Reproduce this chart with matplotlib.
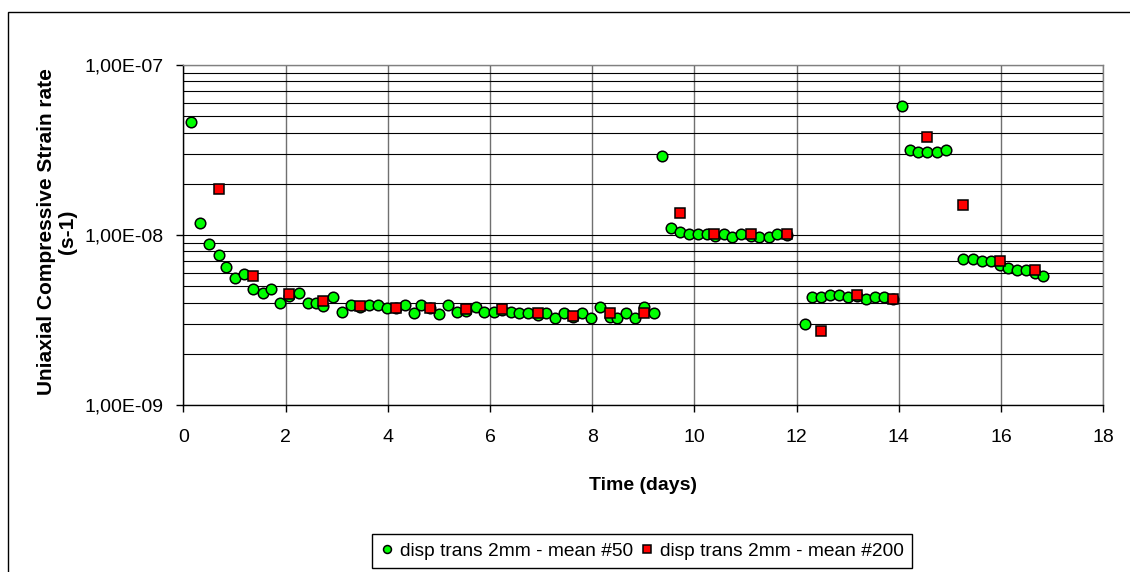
import matplotlib.pyplot as plt
from matplotlib.patches import Rectangle
from matplotlib.ticker import FixedLocator, LogLocator, NullFormatter

plt.rcParams['font.family'] = ['Liberation Sans', 'DejaVu Sans']

# strain rate from transverse displacement, running mean over 50 samples
t50 = [0.15, 0.33, 0.51, 0.69, 0.84, 1.01, 1.19, 1.37, 1.55, 1.72,
       1.90, 2.07, 2.26, 2.43, 2.60, 2.74, 2.92, 3.10, 3.28, 3.46,
       3.63, 3.81, 3.99, 4.16, 4.34, 4.51, 4.66, 4.83, 5.00, 5.18,
       5.36, 5.53, 5.72, 5.89, 6.07, 6.24, 6.42, 6.57, 6.75, 6.93,
       7.10, 7.28, 7.45, 7.62, 7.80, 7.98, 8.15, 8.34, 8.49, 8.66,
       8.83, 9.02, 9.20, 9.36, 9.54, 9.72, 9.90, 10.07, 10.24, 10.40,
       10.57, 10.74, 10.92, 11.10, 11.27, 11.45, 11.62, 11.81,
       12.16, 12.30, 12.47, 12.65, 12.83, 13.01, 13.19, 13.36, 13.54, 13.71, 13.89,
       14.07, 14.21, 14.38, 14.56, 14.74, 14.92,
       15.26, 15.45, 15.62, 15.80, 15.98, 16.13, 16.31, 16.49, 16.66, 16.83]
rate50 = [4.6e-8, 1.17e-8, 8.8e-9, 7.66e-9, 6.46e-9, 5.56e-9, 5.9e-9, 4.81e-9, 4.58e-9, 4.83e-9,
          3.96e-9, 4.4e-9, 4.58e-9, 3.96e-9, 3.96e-9, 3.84e-9, 4.33e-9, 3.54e-9, 3.86e-9, 3.75e-9,
          3.87e-9, 3.87e-9, 3.73e-9, 3.7e-9, 3.87e-9, 3.46e-9, 3.87e-9, 3.7e-9, 3.43e-9, 3.87e-9,
          3.54e-9, 3.55e-9, 3.75e-9, 3.54e-9, 3.54e-9, 3.6e-9, 3.54e-9, 3.46e-9, 3.46e-9, 3.4e-9,
          3.46e-9, 3.24e-9, 3.46e-9, 3.3e-9, 3.46e-9, 3.26e-9, 3.75e-9, 3.3e-9, 3.26e-9, 3.46e-9,
          3.26e-9, 3.77e-9, 3.46e-9, 2.92e-8, 1.10e-8, 1.04e-8, 1.01e-8, 1.01e-8, 1.01e-8, 9.8e-9,
          1.01e-8, 9.78e-9, 1.01e-8, 9.8e-9, 9.78e-9, 9.78e-9, 1.01e-8, 1.0e-8,
          2.98e-9, 4.33e-9, 4.33e-9, 4.46e-9, 4.46e-9, 4.33e-9, 4.35e-9, 4.19e-9, 4.33e-9, 4.33e-9, 4.2e-9,
          5.77e-8, 3.16e-8, 3.09e-8, 3.09e-8, 3.09e-8, 3.16e-8,
          7.23e-9, 7.23e-9, 7.03e-9, 7.03e-9, 6.7e-9, 6.4e-9, 6.22e-9, 6.22e-9, 6.0e-9, 5.74e-9]

# same signal, running mean over 200 samples
t200 = [0.69, 1.37, 2.07, 2.74, 3.46, 4.16, 4.83, 5.53, 6.24, 6.93,
        7.62, 8.34, 9.02, 9.72, 10.39, 11.10, 11.81, 12.48, 13.19, 13.89,
        14.56, 15.26, 15.98, 16.66]
rate200 = [1.86e-8, 5.76e-9, 4.48e-9, 4.07e-9, 3.84e-9, 3.73e-9, 3.73e-9, 3.66e-9, 3.66e-9, 3.46e-9,
           3.36e-9, 3.46e-9, 3.46e-9, 1.35e-8, 1.01e-8, 1.01e-8, 1.01e-8, 2.74e-9, 4.46e-9, 4.19e-9,
           3.78e-8, 1.51e-8, 7.0e-9, 6.22e-9]

xticks = [0, 2, 4, 6, 8, 10, 12, 14, 16, 18]
yticks = [1e-9, 1e-8, 1e-7]
ylabels = ['1,00E-09', '1,00E-08', '1,00E-07']

W, H = 1130, 572
fig = plt.figure(figsize=(W / 100, H / 100), dpi=100)
ax = fig.add_axes([183.3 / W, 1 - 405 / H, 920 / W, 340 / H])

ax.set_yscale('log')
ax.set_xlim(0, 18)
ax.set_ylim(1e-9, 1e-7)

ax.xaxis.set_major_locator(FixedLocator(xticks))
ax.yaxis.set_major_locator(FixedLocator(yticks))
ax.set_yticklabels(ylabels)
ax.yaxis.set_minor_locator(LogLocator(base=10, subs=range(2, 10)))
ax.yaxis.set_minor_formatter(NullFormatter())
ax.tick_params(axis='both', which='major', direction='out', length=5, width=1,
               labelsize=14, colors='black')
ax.tick_params(axis='x', pad=12.5)
ax.tick_params(axis='y', pad=9)
ax.tick_params(axis='y', which='minor', length=0)

ax.grid(which='major', axis='x', color='#707070', lw=1)
ax.grid(which='both', axis='y', color='black', lw=0.8)
ax.set_axisbelow(True)

for side in ('top', 'right'):
    ax.spines[side].set_color('#808080')
for side in ('left', 'bottom'):
    ax.spines[side].set_color('black')
for s in ax.spines.values():
    s.set_linewidth(1)

ax.plot(t50, rate50, ls='none', marker='o', ms=7.6, mfc='#00ff00', mec='black', mew=1.1,
        label='disp trans 2mm - mean #50', zorder=3)
ax.plot(t200, rate200, ls='none', marker='s', ms=7.2, mfc='#ff0000', mec='black', mew=1.1,
        label='disp trans 2mm - mean #200', zorder=4)

ax.set_xlabel('Time (days)', fontsize=14, fontweight='bold', labelpad=22)
fig.text(57 / W, 1 - 232 / H, 'Uniaxial Compressive Strain rate\n(s-1)', rotation=90,
         ha='center', va='center', multialignment='center', fontsize=15,
         fontweight='bold', linespacing=1.15)

fig.legend(loc='center', bbox_to_anchor=(642 / W, 1 - 551 / H), ncol=2, fontsize=13.8,
           frameon=True, fancybox=False, edgecolor='black', framealpha=1,
           handlelength=0.7, handletextpad=0.3, columnspacing=0.4, borderpad=0.42,
           markerscale=0.75)

# chart area border (runs off the right and bottom edges)
fig.patches.append(Rectangle((8 / W, -0.1), 1.2, 1.1 - 12 / H, transform=fig.transFigure,
                             fill=False, ec='black', lw=1))

fig.savefig('out.png', dpi=100)
